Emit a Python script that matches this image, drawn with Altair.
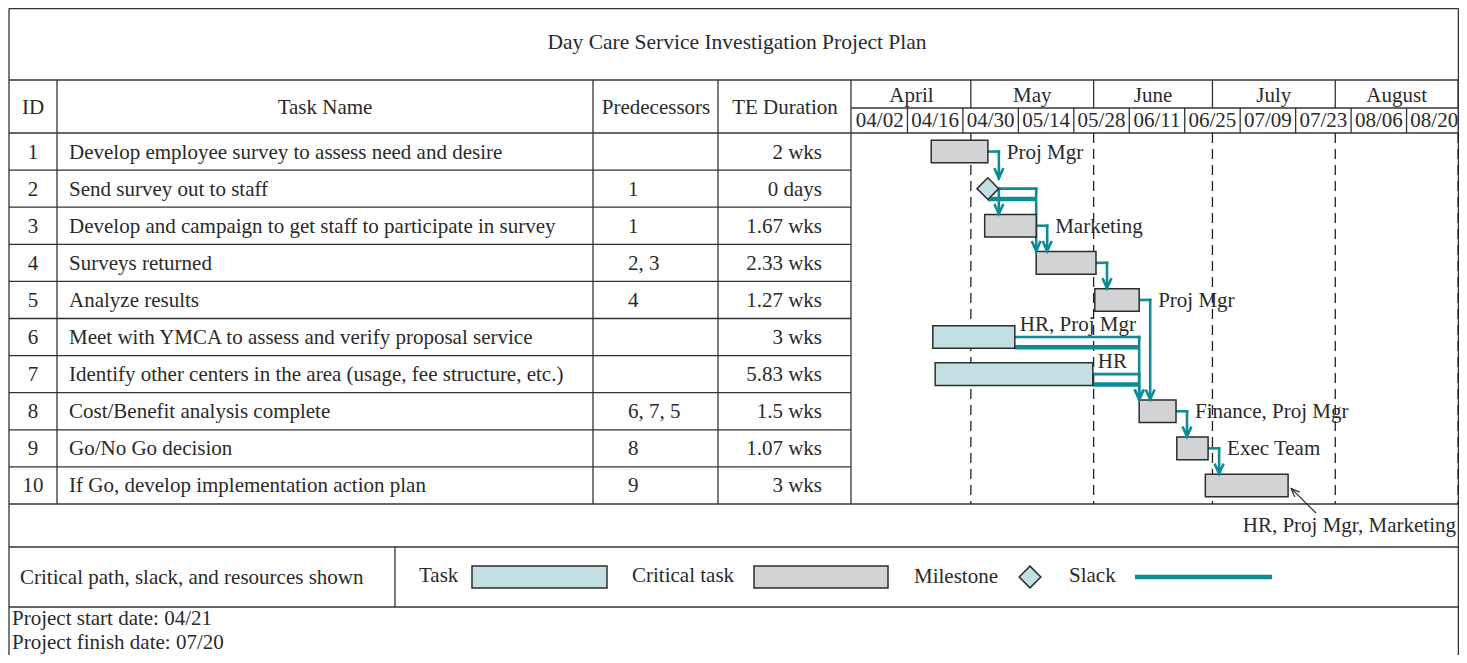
import altair as alt
import pandas as pd

# ---------------- data ----------------
title = "Day Care Service Investigation Project Plan"
column_headers = ["ID", "Task Name", "Predecessors", "TE Duration"]
task_ids = list(range(1, 11))
task_names = [
    "Develop employee survey to assess need and desire",
    "Send survey out to staff",
    "Develop and campaign to get staff to participate in survey",
    "Surveys returned",
    "Analyze results",
    "Meet with YMCA to assess and verify proposal service",
    "Identify other centers in the area (usage, fee structure, etc.)",
    "Cost/Benefit analysis complete",
    "Go/No Go decision",
    "If Go, develop implementation action plan",
]
predecessors = ["", "1", "1", "2, 3", "4", "", "", "6, 7, 5", "8", "9"]
durations = ["2 wks", "0 days", "1.67 wks", "2.33 wks", "1.27 wks",
             "3 wks", "5.83 wks", "1.5 wks", "1.07 wks", "3 wks"]
# start / finish of each bar, in days after 04/01
start_day = [20, 34.3, 33.5, 46.5, 61.3, 20.4, 21.0, 72.5, 82.0, 89.2]
finish_day = [34.3, 34.3, 46.5, 61.6, 72.5, 41.1, 60.8, 81.8, 89.9, 110.1]
task_kind = ["Critical task", "Milestone", "Critical task", "Critical task", "Critical task",
             "Task", "Task", "Critical task", "Critical task", "Critical task"]
resources = ["Proj Mgr", "", "Marketing", "", "Proj Mgr", "HR, Proj Mgr", "HR",
             "Finance, Proj Mgr", "Exec Team", "HR, Proj Mgr, Marketing"]
links = [(1, 2), (2, 3), (2, 4), (3, 4), (4, 5), (5, 8), (6, 8), (7, 8), (8, 9), (9, 10)]
slack_task = [2, 6, 7]
slack_until_day = [46.5, 72.5, 72.5]
months = ["April", "May", "June", "July", "August"]
month_start_day = [0, 30, 61, 91, 122, 153]
week_labels = ["04/02", "04/16", "04/30", "05/14", "05/28", "06/11",
               "06/25", "07/09", "07/23", "08/06", "08/20"]
legend_items = ["Task", "Critical task", "Milestone", "Slack"]
note_text = "Critical path, slack, and resources shown"
start_note = "Project start date: 04/21"
finish_note = "Project finish date: 07/20"

# ---------------- layout ----------------
FONT = "Liberation Serif"
FS = 21
TXT = "#2a2a2a"
LINE = "#333333"
TEAL = "#0b8c96"
LIGHT = "#c2dfe3"
GRAY = "#d1d3d4"

X0, X1 = 8, 1459
Y0, Y1 = 8, 655
CW, CH = 1451, 647

LEFT, RIGHT, TOP, BOTTOM = 9, 1458.4, 8.6, 655
Y_TITLE = 80
Y_HEAD = 133
ROW_H = 37.1
Y_TABLE = Y_HEAD + 10 * ROW_H
Y_NOTE = 547
Y_LEG = 607
COLS = [57, 593, 718, 851]
Y_TL = 108
GX0 = 852
PXD = 610 / 154.0
BAR_HALF = 11.3


def gx(d):
    return min(GX0 + PXD * d, RIGHT)


def row_c(i):
    return Y_HEAD + ROW_H * (i - 0.5)


xs = alt.Scale(domain=[X0, X1], nice=False, zero=False)
ys = alt.Scale(domain=[Y0, Y1], nice=False, zero=False, reverse=True)
XE = alt.X("x:Q", scale=xs, axis=None)
YE = alt.Y("y:Q", scale=ys, axis=None)


def seg_df(segs):
    return pd.DataFrame(segs, columns=["x", "y", "x2", "y2"])


def rule_layer(df, **kw):
    return alt.Chart(df).mark_rule(**kw).encode(x=XE, x2="x2:Q", y=YE, y2="y2:Q")


def text_layer(rows, align, size=FS, color=TXT):
    df = pd.DataFrame(rows, columns=["x", "y", "text"])
    return alt.Chart(df).mark_text(align=align, baseline="middle", fontSize=size,
                                   font=FONT, color=color).encode(x=XE, y=YE, text="text:N")


# ---- table grid ----
grid = [
    (LEFT, TOP, RIGHT, TOP),
    (LEFT, Y_TITLE, RIGHT, Y_TITLE),
    (LEFT, Y_HEAD, RIGHT, Y_HEAD),
    (LEFT, Y_TABLE, RIGHT, Y_TABLE),
    (LEFT, Y_NOTE, RIGHT, Y_NOTE),
    (LEFT, Y_LEG, RIGHT, Y_LEG),
    (LEFT, TOP, LEFT, BOTTOM),
    (RIGHT, TOP, RIGHT, BOTTOM),
    (395, Y_NOTE, 395, Y_LEG),
    (COLS[-1], Y_TL, RIGHT, Y_TL),
]
for k in range(1, 10):
    grid.append((LEFT, Y_HEAD + k * ROW_H, COLS[-1], Y_HEAD + k * ROW_H))
for c in COLS:
    grid.append((c, Y_TITLE, c, Y_TABLE))
for d in month_start_day[1:]:
    grid.append((gx(d), Y_TITLE, gx(d), Y_TL))
for k in range(1, len(week_labels) + 1):
    grid.append((gx(14 * k), Y_TL, gx(14 * k), Y_HEAD))
grid_df = seg_df(grid)

dash_df = seg_df([(gx(d), Y_HEAD, gx(d), Y_TABLE) for d in month_start_day[1:]])

# ---- slack and link lines ----
slack = []
for t, until in zip(slack_task, slack_until_day):
    y = row_c(t) + BAR_HALF - 1
    slack.append((gx(finish_day[t - 1]), y, gx(until), y))
slack.append((1135, 577, 1272, 577))  # legend sample
slack_df = seg_df(slack)

link_segs, tips = [], []
for p, s in links:
    pend = gx(finish_day[p - 1])
    drop = max(pend + 11, gx(start_day[s - 1]))
    yh = row_c(p)
    ytip = row_c(s) - (10 if task_kind[s - 1] == "Milestone" else BAR_HALF) - 0.5
    link_segs.append((pend, yh, drop, yh))
    link_segs.append((drop, yh, drop, ytip))
    tips.append((drop, ytip))
link_df = seg_df(link_segs)
tip_df = pd.DataFrame(tips, columns=["x", "y"])

# ---- bars ----
bars = []
for i in range(10):
    if task_kind[i] == "Milestone":
        continue
    c = row_c(i + 1)
    bars.append((gx(start_day[i]), c - BAR_HALF, gx(finish_day[i]), c + BAR_HALF, task_kind[i]))
bars.append((472, 566, 607, 588, "Task"))
bars.append((754, 566, 888, 588, "Critical task"))
bar_df = pd.DataFrame(bars, columns=["x", "y", "x2", "y2", "kind"])

ms = [(gx(finish_day[i]), row_c(i + 1)) for i in range(10) if task_kind[i] == "Milestone"]
ms.append((1030, 577))
ms_df = pd.DataFrame(ms, columns=["x", "y"])

# annotation for last task
last = 9
ann_tip = (gx(finish_day[last]) + 3, row_c(last + 1) + 3)
ann_df = seg_df([(ann_tip[0], ann_tip[1], 1316, 513)])
ann_tip_df = pd.DataFrame([ann_tip], columns=["x", "y"])

# ---- texts ----
center_txt = [(33, 108, column_headers[0]), (325, 108, column_headers[1]),
              (656, 108, column_headers[2]), (785, 108, column_headers[3])]
for m, a, b in zip(months, month_start_day[:-1], month_start_day[1:]):
    center_txt.append((gx((a + b) / 2), 95.5, m))
for k, w in enumerate(week_labels):
    center_txt.append((gx(14 * k + 7), 121, w))
for i in range(10):
    center_txt.append((33, row_c(i + 1) + 1, str(task_ids[i])))

left_txt = []
for i in range(10):
    c = row_c(i + 1) + 1
    left_txt.append((69, c, task_names[i]))
    if predecessors[i]:
        left_txt.append((628, c, predecessors[i]))
    if resources[i] and i != last:
        if (i + 1) in slack_task:
            left_txt.append((gx(finish_day[i]) + 5, c - 13, resources[i]))
        else:
            left_txt.append((gx(finish_day[i]) + 19, c, resources[i]))
left_txt += [(20, 578, note_text), (419, 576, legend_items[0]), (632, 576, legend_items[1]),
             (914, 577, legend_items[2]), (1069, 576, legend_items[3]),
             (12, 619, start_note), (12, 643, finish_note)]

right_txt = [(822, row_c(i + 1) + 1, durations[i]) for i in range(10)]
right_txt.append((1456, 526, resources[last]))

# ---------------- chart ----------------
layers = [
    rule_layer(grid_df, color=LINE, strokeWidth=1.3),
    rule_layer(dash_df, color="#222222", strokeWidth=1.3, strokeDash=[10, 6]),
    rule_layer(slack_df, color=TEAL, strokeWidth=4.5),
    rule_layer(link_df, color=TEAL, strokeWidth=2.6, strokeCap="square"),
    rule_layer(ann_df, color="#222222", strokeWidth=1.1),
    alt.Chart(bar_df).mark_rect(stroke="#2d2d2d", strokeWidth=1.5).encode(
        x=XE, x2="x2:Q", y=YE, y2="y2:Q",
        fill=alt.Fill("kind:N", scale=alt.Scale(domain=["Task", "Critical task"], range=[LIGHT, GRAY]),
                      legend=None)),
    alt.Chart(ms_df).mark_point(shape="diamond", filled=True, fill=LIGHT, stroke="#2d2d2d",
                                strokeWidth=1.5, size=470, opacity=1).encode(x=XE, y=YE),
    alt.Chart(tip_df).mark_point(shape="M-0.45,-1L0,0L0.45,-1", filled=False, size=400,
                                 stroke=TEAL, strokeWidth=2.6, opacity=1).encode(x=XE, y=YE),
    alt.Chart(ann_tip_df).mark_point(shape="M-0.4,-1L0,0L0.4,-1", filled=False, size=300, angle=135,
                                     stroke="#222222", strokeWidth=1.1, opacity=1).encode(x=XE, y=YE),
    text_layer([(737, 43, title)], "center", size=21.5),
    text_layer(center_txt, "center"),
    text_layer(left_txt, "left"),
    text_layer(right_txt, "right"),
]

chart = alt.layer(*layers).properties(
    width=CW, height=CH, padding=0,
    autosize=alt.AutoSizeParams(type="none"),
    background="white",
).configure_view(stroke=None)

chart.save("out.html", embed_options={"renderer": "svg", "actions": False})
